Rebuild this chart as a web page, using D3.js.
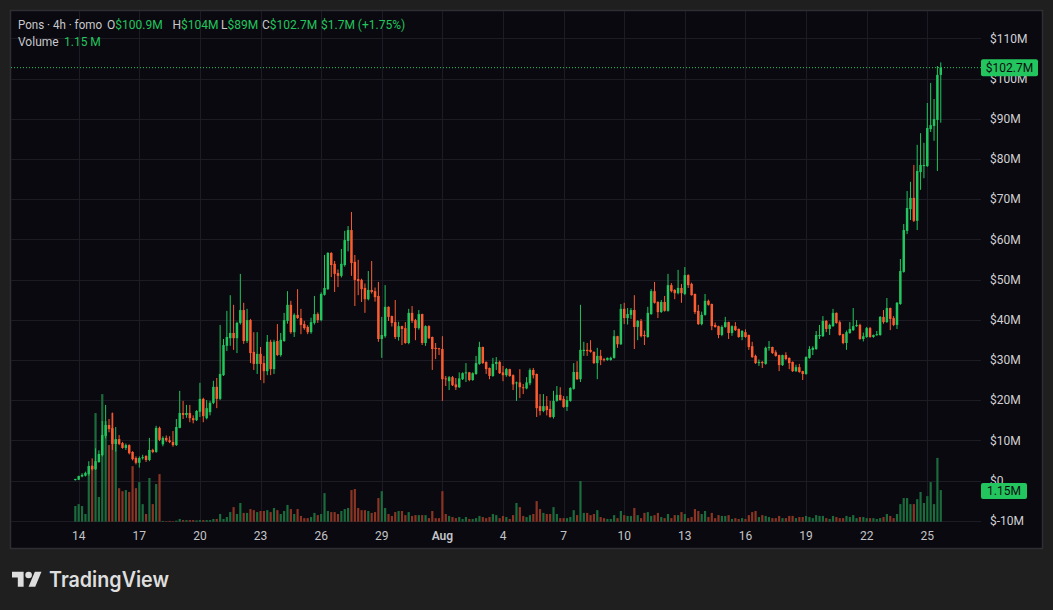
<!DOCTYPE html>
<html>
<head>
<meta charset="utf-8">
<script src="https://d3js.org/d3.v7.min.js"></script>
<style>
  html, body { margin: 0; padding: 0; background: #1f1f1f; }
  svg { display: block; }
</style>
</head>
<body>
<div id="chart"></div>
<script>
/*
PONS 4H CANDLES (millions of $), first candle = Jul 13 20:00, one every 4 hours
*/
const opens = [
  0.1, 0.2, 1.0, 1.2, 1.6, 3.6, 2.8, 4.6, 6.3, 11.1,
  13.8, 13.0, 9.1, 10.3, 9.3, 8.1, 8.8, 7.1, 5.6, 4.4,
  5.6, 6.1, 5.1, 7.6, 7.1, 13.1, 9.0, 10.6, 10.0, 9.6,
  8.8, 13.1, 16.8, 16.3, 16.8, 15.5, 15.0, 17.1, 20.3, 15.5,
  17.0, 19.3, 23.3, 20.3, 26.2, 33.5, 35.4, 36.7, 35.4, 39.2,
  42.4, 34.7, 39.9, 32.0, 29.0, 31.5, 29.2, 27.2, 34.5, 27.7,
  34.7, 31.2, 34.7, 39.7, 43.7, 36.9, 41.2, 40.4, 38.9, 38.2,
  36.9, 39.2, 41.4, 39.9, 46.2, 47.6, 56.6, 53.9, 51.6, 50.9,
  53.6, 59.6, 62.3, 54.4, 50.1, 49.9, 47.9, 45.1, 47.4, 47.1,
  45.9, 35.2, 35.9, 43.2, 40.9, 39.4, 35.7, 38.4, 37.9, 34.2,
  41.7, 39.9, 37.9, 41.4, 34.2, 38.4, 35.7, 33.0, 32.9, 32.7,
  25.4, 24.7, 25.7, 23.9, 23.2, 25.2, 26.7, 26.9, 25.0, 26.5,
  29.0, 33.2, 29.5, 28.0, 26.0, 29.0, 29.5, 26.9, 26.2, 27.7,
  26.2, 24.2, 24.4, 23.2, 22.9, 24.2, 27.5, 26.5, 18.5, 17.3,
  18.5, 17.8, 15.8, 19.8, 21.3, 20.3, 18.3, 19.8, 22.8, 27.0,
  25.2, 32.2, 32.5, 32.5, 32.0, 29.2, 31.0, 30.2, 30.0, 30.0,
  30.5, 35.9, 33.9, 42.7, 40.4, 41.2, 42.4, 38.2, 39.7, 36.2,
  35.7, 41.4, 47.1, 44.4, 41.9, 44.4, 42.2, 48.6, 47.4, 46.6,
  47.9, 46.4, 51.1, 48.9, 46.4, 42.2, 38.9, 41.2, 44.7, 43.9,
  38.7, 38.4, 36.2, 38.2, 39.4, 36.7, 38.4, 37.7, 35.7, 36.9,
  36.2, 33.4, 31.0, 29.2, 29.5, 29.0, 33.0, 33.2, 31.9, 31.2,
  28.7, 31.2, 30.5, 29.5, 27.2, 28.2, 27.2, 26.5, 30.5, 32.5,
  32.7, 35.9, 35.9, 39.7, 37.7, 38.4, 41.7, 39.4, 36.4, 34.2,
  36.7, 37.4, 38.4, 38.7, 35.2, 35.7, 37.9, 35.7, 36.2, 36.2,
  40.7, 39.4, 42.9, 40.4, 38.7, 43.9, 51.9, 62.1, 67.5, 70.3,
  64.6, 76.7, 78.2, 78.2, 87.4, 88.2, 89.7, 100.9
];
const highs = [
  0.4, 1.2, 1.8, 2.2, 4.8, 5.5, 8.0, 7.5, 14.8, 18.8,
  15.3, 16.9, 13.3, 11.3, 9.6, 9.2, 9.0, 7.3, 6.0, 6.0,
  6.4, 6.3, 10.6, 7.9, 13.6, 13.4, 11.0, 11.2, 11.0, 12.3,
  15.3, 22.3, 19.8, 18.8, 18.8, 16.2, 17.5, 24.3, 20.6, 20.0,
  19.8, 24.8, 25.5, 38.7, 35.2, 42.2, 46.1, 43.7, 39.5, 51.4,
  44.2, 42.7, 40.2, 36.9, 36.9, 33.2, 31.0, 36.2, 35.0, 35.0,
  38.9, 36.7, 41.7, 47.1, 44.7, 41.6, 47.6, 42.7, 39.7, 38.6,
  40.5, 45.9, 41.8, 46.8, 56.1, 56.8, 56.8, 54.6, 52.5, 57.6,
  62.1, 63.3, 66.8, 56.1, 54.9, 50.2, 49.0, 52.1, 54.6, 48.0,
  49.4, 40.7, 48.6, 43.3, 41.0, 44.9, 39.5, 38.5, 39.4, 42.7,
  43.4, 40.2, 42.4, 41.5, 38.6, 38.6, 35.8, 34.2, 33.0, 35.9,
  26.0, 26.0, 26.0, 25.5, 26.9, 26.9, 29.2, 27.0, 26.9, 31.0,
  34.5, 33.3, 29.6, 28.1, 30.5, 30.7, 29.8, 28.5, 28.0, 27.8,
  26.4, 24.6, 27.7, 24.0, 25.7, 27.9, 28.0, 26.6, 21.5, 21.5,
  21.0, 19.8, 22.3, 23.5, 23.2, 21.0, 21.0, 23.2, 29.2, 29.7,
  43.7, 34.5, 34.2, 34.9, 32.1, 33.0, 32.5, 30.5, 30.6, 30.8,
  37.4, 36.0, 43.9, 44.2, 42.9, 42.9, 46.1, 39.9, 40.2, 37.3,
  43.2, 47.6, 49.4, 44.6, 44.9, 45.9, 51.4, 49.1, 47.6, 52.4,
  48.9, 53.1, 51.3, 49.2, 46.5, 43.7, 42.0, 46.4, 45.0, 44.0,
  39.3, 38.5, 38.6, 40.7, 39.5, 38.6, 39.4, 37.8, 37.4, 37.6,
  36.3, 34.5, 31.3, 30.1, 29.7, 33.3, 34.7, 33.3, 32.4, 31.3,
  31.3, 31.9, 30.6, 29.6, 28.8, 29.0, 27.3, 30.9, 33.4, 33.4,
  37.2, 38.7, 40.9, 39.9, 39.0, 42.7, 41.8, 39.8, 36.5, 37.3,
  39.4, 42.9, 39.9, 39.0, 36.8, 38.2, 38.2, 36.3, 37.2, 40.9,
  42.4, 45.4, 43.0, 40.9, 44.4, 55.1, 63.8, 72.0, 74.3, 78.5,
  83.5, 86.4, 84.0, 93.9, 98.9, 94.9, 103.1, 104.0
];
const lows = [
  0.0, 0.1, 0.8, 1.0, 1.2, 2.5, 2.6, 4.4, 6.0, 10.5,
  12.0, 7.6, 7.2, 8.8, 7.9, 7.6, 6.5, 5.0, 4.0, 3.2,
  5.2, 4.6, 4.8, 6.8, 6.9, 9.8, 8.5, 9.6, 9.3, 8.4,
  8.6, 13.0, 15.3, 15.6, 14.5, 14.2, 14.8, 15.8, 14.5, 15.2,
  16.2, 19.0, 18.0, 20.0, 26.0, 32.2, 33.5, 32.5, 31.7, 38.8,
  34.0, 34.2, 29.2, 27.5, 26.5, 25.0, 24.2, 26.2, 26.2, 26.5,
  31.0, 30.8, 34.5, 39.0, 36.5, 35.7, 40.2, 36.4, 37.5, 36.4,
  36.5, 38.8, 39.2, 39.6, 46.0, 47.4, 50.6, 46.9, 48.1, 50.5,
  53.2, 57.0, 50.9, 43.4, 46.1, 44.4, 41.7, 44.8, 46.5, 44.5,
  34.5, 30.5, 35.5, 39.7, 38.3, 35.2, 34.8, 33.7, 34.0, 33.9,
  39.2, 34.9, 37.5, 33.7, 33.5, 35.2, 27.5, 30.2, 31.2, 19.8,
  23.5, 22.5, 23.5, 22.5, 23.0, 25.0, 24.5, 24.7, 24.8, 26.3,
  28.8, 29.0, 26.5, 25.2, 25.8, 27.5, 26.5, 24.7, 25.8, 25.8,
  22.5, 19.8, 20.5, 21.5, 22.7, 23.7, 25.4, 15.8, 16.2, 17.0,
  16.2, 15.6, 15.4, 19.6, 19.9, 18.1, 17.3, 19.6, 22.6, 25.0,
  24.5, 31.0, 31.0, 31.8, 29.0, 25.2, 28.7, 29.6, 29.8, 29.8,
  30.3, 33.0, 33.7, 38.9, 38.8, 40.2, 32.7, 34.9, 35.6, 33.7,
  35.5, 41.2, 44.0, 40.4, 41.7, 42.0, 42.0, 46.8, 45.1, 46.3,
  44.2, 46.1, 47.9, 46.0, 41.4, 38.7, 38.6, 41.0, 43.5, 37.4,
  38.0, 35.4, 35.9, 38.0, 35.2, 36.0, 37.2, 35.5, 34.9, 35.5,
  32.5, 30.5, 29.0, 28.5, 28.0, 28.8, 32.3, 31.5, 30.8, 27.2,
  28.5, 30.0, 27.7, 27.0, 27.0, 26.8, 25.0, 26.3, 30.3, 31.2,
  32.5, 35.2, 35.7, 36.9, 36.2, 38.2, 39.0, 36.0, 33.9, 32.5,
  36.5, 37.2, 38.2, 35.0, 34.6, 35.5, 35.5, 35.5, 36.0, 36.0,
  39.0, 39.2, 37.4, 38.4, 37.7, 43.7, 51.7, 61.3, 64.8, 64.3,
  62.3, 72.3, 75.2, 78.0, 86.7, 84.5, 77.0, 89.0
];
const closes = [
  0.4, 1.1, 1.4, 1.9, 3.6, 2.8, 4.8, 6.6, 11.3, 13.8,
  12.8, 9.1, 10.3, 9.1, 8.1, 8.8, 6.8, 5.3, 4.4, 5.6,
  5.8, 5.1, 7.6, 7.1, 13.1, 10.1, 10.6, 10.0, 9.6, 8.8,
  13.3, 16.8, 16.3, 16.8, 15.5, 15.0, 17.3, 20.3, 16.0, 18.0,
  19.3, 23.3, 20.3, 26.5, 33.7, 35.7, 36.7, 35.4, 39.2, 42.4,
  34.7, 39.9, 31.7, 29.0, 31.5, 29.0, 27.2, 34.5, 27.7, 34.5,
  31.2, 35.0, 39.9, 43.7, 36.9, 41.2, 40.4, 38.7, 37.9, 36.9,
  39.4, 41.4, 39.9, 46.4, 47.9, 56.6, 53.6, 51.4, 50.9, 53.9,
  59.8, 62.3, 54.1, 49.9, 49.6, 47.6, 45.1, 47.4, 46.9, 45.6,
  35.2, 36.2, 43.2, 40.7, 39.2, 35.7, 38.4, 37.7, 34.2, 41.7,
  39.7, 37.9, 41.4, 34.2, 38.4, 35.4, 32.7, 32.7, 32.7, 25.2,
  25.2, 25.7, 23.7, 23.2, 25.4, 26.7, 26.9, 25.0, 26.7, 29.2,
  33.2, 29.2, 27.7, 26.0, 29.0, 29.5, 26.7, 26.2, 27.7, 26.0,
  23.9, 24.4, 23.2, 23.0, 24.4, 27.5, 26.2, 18.0, 17.3, 18.5,
  17.5, 15.8, 19.8, 21.3, 20.0, 18.3, 20.0, 23.0, 27.0, 25.2,
  32.5, 32.5, 32.2, 32.0, 29.2, 31.0, 30.0, 30.0, 30.5, 30.5,
  35.9, 33.9, 42.7, 40.4, 41.4, 42.4, 38.2, 39.7, 35.9, 35.9,
  41.7, 47.1, 44.2, 41.9, 44.4, 42.2, 48.6, 47.1, 46.6, 47.9,
  46.6, 51.1, 48.6, 46.1, 41.9, 38.9, 41.2, 44.7, 43.7, 38.4,
  38.2, 36.2, 38.2, 39.4, 36.7, 38.4, 37.4, 35.7, 37.2, 35.7,
  33.2, 30.7, 29.2, 29.5, 29.2, 33.0, 33.2, 31.7, 31.0, 28.7,
  31.2, 30.2, 29.2, 27.2, 28.2, 27.0, 26.5, 30.7, 32.7, 33.0,
  36.2, 36.2, 39.7, 37.7, 38.7, 41.7, 39.2, 36.2, 34.2, 36.9,
  37.7, 38.4, 38.7, 35.2, 35.9, 37.9, 35.7, 36.2, 36.4, 40.7,
  39.4, 42.9, 40.2, 38.7, 44.2, 52.1, 62.3, 67.8, 70.3, 64.6,
  77.0, 78.5, 78.5, 87.7, 88.4, 89.9, 100.9, 102.7
];
const volumes = [
  0.57, 0.64, 0.57, 0.28, 2.02, 2.05, 3.95, 0.90, 4.64, 3.66,
  2.79, 3.95, 2.97, 1.22, 1.11, 1.15, 1.08, 2.02, 1.22, 1.44,
  0.64, 0.28, 1.59, 0.64, 1.37, 1.73, 0.03, 0.02, 0.03, 0.02,
  0.04, 0.10, 0.06, 0.06, 0.06, 0.06, 0.05, 0.06, 0.06, 0.06,
  0.06, 0.10, 0.10, 0.28, 0.10, 0.17, 0.35, 0.53, 0.28, 0.68,
  0.32, 0.32, 0.46, 0.42, 0.35, 0.39, 0.39, 0.42, 0.35, 0.50,
  0.42, 0.28, 0.39, 0.61, 0.46, 0.28, 0.46, 0.21, 0.13, 0.13,
  0.17, 0.32, 0.24, 0.28, 1.04, 0.39, 0.35, 0.35, 0.28, 0.39,
  0.46, 0.50, 1.15, 1.19, 0.50, 0.42, 0.42, 0.39, 0.32, 0.35,
  0.86, 1.11, 0.50, 0.28, 0.21, 0.35, 0.39, 0.39, 0.24, 0.35,
  0.21, 0.24, 0.24, 0.24, 0.24, 0.13, 0.39, 0.13, 0.13, 1.11,
  0.28, 0.21, 0.17, 0.13, 0.17, 0.10, 0.17, 0.10, 0.10, 0.13,
  0.21, 0.17, 0.13, 0.17, 0.28, 0.24, 0.13, 0.21, 0.17, 0.10,
  0.24, 0.68, 0.53, 0.21, 0.17, 0.24, 0.28, 0.75, 0.46, 0.32,
  0.28, 0.28, 0.53, 0.28, 0.13, 0.13, 0.13, 0.17, 0.42, 0.24,
  1.48, 0.32, 0.32, 0.24, 0.28, 0.42, 0.17, 0.13, 0.10, 0.10,
  0.24, 0.13, 0.39, 0.24, 0.21, 0.21, 0.50, 0.24, 0.13, 0.32,
  0.35, 0.21, 0.24, 0.32, 0.17, 0.13, 0.28, 0.13, 0.24, 0.24,
  0.35, 0.28, 0.13, 0.17, 0.46, 0.39, 0.28, 0.39, 0.17, 0.32,
  0.13, 0.24, 0.21, 0.21, 0.24, 0.10, 0.13, 0.10, 0.13, 0.10,
  0.24, 0.35, 0.39, 0.17, 0.24, 0.21, 0.17, 0.13, 0.13, 0.21,
  0.13, 0.13, 0.21, 0.21, 0.13, 0.17, 0.17, 0.21, 0.17, 0.13,
  0.24, 0.21, 0.21, 0.13, 0.10, 0.21, 0.17, 0.13, 0.13, 0.21,
  0.17, 0.24, 0.13, 0.17, 0.17, 0.13, 0.13, 0.13, 0.10, 0.13,
  0.17, 0.28, 0.21, 0.13, 0.28, 0.64, 0.86, 0.86, 0.64, 0.64,
  0.82, 1.08, 0.68, 0.93, 1.44, 0.64, 2.32, 1.15
];

// axis ticks
const priceTicks = [-10, 0, 10, 20, 30, 40, 50, 60, 70, 80, 90, 100, 110];
const dateTicks = ["2024-07-14", "2024-07-17", "2024-07-20", "2024-07-23", "2024-07-26", "2024-07-29",
  "2024-08-01", "2024-08-04", "2024-08-07", "2024-08-10", "2024-08-13", "2024-08-16",
  "2024-08-19", "2024-08-22", "2024-08-25"];
const dateLabels = ["14", "17", "20", "23", "26", "29", "Aug", "4", "7", "10", "13", "16", "19", "22", "25"];

// legend values as shown by the source
const lastOpen = 100.9, lastHigh = 104, lastLow = 89, lastClose = 102.7;
const lastChange = 1.7, lastChangePct = 1.75;
const lastVolume = 1.15;

/*
SVG CANVAS
*/
const width = 1053;
const height = 610;
const green = "#22c55e";
const red = "#fd5c30";
const volGreen = "#1b6b3c";
const volRed = "#8a3424";
const font = "Roboto, 'Noto Sans', sans-serif";

const svg = d3.select("#chart")
    .append("svg")
    .attr("width", width)
    .attr("height", height);

svg.append("rect")
    .attr("width", width)
    .attr("height", height)
    .attr("fill", "#1f1f1f");

// chart panel
svg.append("rect")
    .attr("x", 10.5)
    .attr("y", 10.5)
    .attr("width", 1032)
    .attr("height", 538)
    .attr("fill", "#09090f")
    .attr("stroke", "#2f2f33")
    .attr("stroke-width", 1.5);

const plot = { left: 11, right: 981, top: 11, bottom: 522 };

/*
SCALES
*/
const parseDay = d3.utcParse("%Y-%m-%d");
const firstCandle = Date.UTC(2024, 6, 13, 20);
const step = 4 * 3600 * 1000;

const xScale = d3.scaleUtc()
    .domain([parseDay("2024-07-14"), parseDay("2024-08-25")])
    .range([78.7, 927.3]);

const yScale = d3.scaleLinear()
    .domain([-10, 110])
    .range([520.7, 38.3]);

const volScale = d3.scaleLinear()
    .domain([0, 1])
    .range([521.7, 494.2]);

let candles = opens.map((o, i) => ({
    time: new Date(firstCandle + i * step),
    open: o,
    high: highs[i],
    low: lows[i],
    close: closes[i],
    volume: volumes[i]
}));

/* GRID */
const grid = svg.append("g");
grid.selectAll("line.h")
    .data(priceTicks)
    .enter()
    .append("line")
        .attr("x1", plot.left)
        .attr("x2", plot.right)
        .attr("y1", d => Math.round(yScale(d)) + 0.5)
        .attr("y2", d => Math.round(yScale(d)) + 0.5)
        .attr("stroke", "#1d1c25");

grid.selectAll("line.v")
    .data(dateTicks)
    .enter()
    .append("line")
        .attr("x1", d => Math.round(xScale(parseDay(d))) + 0.5)
        .attr("x2", d => Math.round(xScale(parseDay(d))) + 0.5)
        .attr("y1", plot.top)
        .attr("y2", plot.bottom)
        .attr("stroke", "#1d1c25");

/* VOLUME BARS */
svg.append("clipPath").attr("id", "plotclip")
    .append("rect")
    .attr("x", plot.left)
    .attr("y", plot.top)
    .attr("width", plot.right - plot.left)
    .attr("height", plot.bottom - plot.top);

svg.append("g")
    .attr("clip-path", "url(#plotclip)")
    .selectAll("rect")
    .data(candles)
    .enter()
    .append("rect")
        .attr("x", d => xScale(d.time) - 1.1)
        .attr("width", 2.2)
        .attr("y", d => volScale(d.volume))
        .attr("height", d => volScale(0) - volScale(d.volume))
        .attr("fill", d => d.close >= d.open ? volGreen : volRed);

/* CANDLES */
const candle = svg.append("g")
    .attr("clip-path", "url(#plotclip)")
    .selectAll("g")
    .data(candles)
    .enter()
    .append("g");

candle.append("line")
    .attr("x1", d => xScale(d.time))
    .attr("x2", d => xScale(d.time))
    .attr("y1", d => yScale(d.high))
    .attr("y2", d => yScale(d.low))
    .attr("stroke", d => d.close >= d.open ? green : red)
    .attr("stroke-width", 1);

candle.append("rect")
    .attr("x", d => xScale(d.time) - 1.25)
    .attr("width", 2.5)
    .attr("y", d => yScale(Math.max(d.open, d.close)))
    .attr("height", d => Math.max(1, Math.abs(yScale(d.open) - yScale(d.close))))
    .attr("fill", d => d.close >= d.open ? green : red);

/* LAST PRICE LINE */
svg.append("line")
    .attr("x1", plot.left)
    .attr("x2", plot.right)
    .attr("y1", yScale(lastClose))
    .attr("y2", yScale(lastClose))
    .attr("stroke", green)
    .attr("stroke-width", 1)
    .attr("stroke-dasharray", "1,2");

/* PRICE AXIS */
svg.append("g")
    .selectAll("text")
    .data(priceTicks)
    .enter()
    .append("text")
        .attr("x", 990)
        .attr("y", d => yScale(d))
        .attr("dy", "0.35em")
        .attr("fill", "#d0d0d4")
        .attr("font-family", font)
        .attr("font-size", 12)
        .text(d => d === 0 ? "$0" : "$" + d + "M");

// last price tag
svg.append("rect")
    .attr("x", 981)
    .attr("y", yScale(lastClose) - 8.5)
    .attr("width", 57)
    .attr("height", 17)
    .attr("rx", 2)
    .attr("fill", green);
svg.append("text")
    .attr("x", 1009.5)
    .attr("y", yScale(lastClose))
    .attr("dy", "0.35em")
    .attr("text-anchor", "middle")
    .attr("fill", "#0d0d10")
    .attr("font-family", font)
    .attr("font-size", 12)
    .text("$" + lastClose + "M");

// last volume tag
svg.append("rect")
    .attr("x", 981)
    .attr("y", volScale(lastVolume) - 7)
    .attr("width", 46)
    .attr("height", 16)
    .attr("rx", 2)
    .attr("fill", green);
svg.append("text")
    .attr("x", 1004)
    .attr("y", volScale(lastVolume) + 1)
    .attr("dy", "0.35em")
    .attr("text-anchor", "middle")
    .attr("fill", "#0d0d10")
    .attr("font-family", font)
    .attr("font-size", 12)
    .text(lastVolume + "M");

/* TIME AXIS */
svg.append("g")
    .selectAll("text")
    .data(dateTicks)
    .enter()
    .append("text")
        .attr("x", d => xScale(parseDay(d)))
        .attr("y", 536)
        .attr("dy", "0.35em")
        .attr("text-anchor", "middle")
        .attr("fill", "#c4c4c8")
        .attr("font-family", font)
        .attr("font-size", 12)
        .attr("font-weight", (d, i) => dateLabels[i] === "Aug" ? 600 : 400)
        .text((d, i) => dateLabels[i]);

/* LEGEND (top left) */
const legend = svg.append("text")
    .attr("y", 29)
    .attr("font-family", font)
    .attr("font-size", 12)
    .attr("fill", "#c8c8cc");
legend.append("tspan").attr("x", 18).attr("textLength", 84).attr("lengthAdjust", "spacingAndGlyphs")
    .text("Pons · 4h · fomo");
legend.append("tspan").attr("x", 107).text("O");
legend.append("tspan").attr("fill", green).text("$" + lastOpen + "M");
legend.append("tspan").attr("x", 172.5).text("H");
legend.append("tspan").attr("fill", green).text("$" + lastHigh + "M");
legend.append("tspan").attr("x", 221).text("L");
legend.append("tspan").attr("fill", green).text("$" + lastLow + "M");
legend.append("tspan").attr("x", 262).text("C");
legend.append("tspan").attr("fill", green).text("$" + lastClose + "M");
legend.append("tspan").attr("x", 321).attr("fill", green)
    .text("$" + lastChange + "M (+" + lastChangePct + "%)");

const volLegend = svg.append("text")
    .attr("y", 46)
    .attr("font-family", font)
    .attr("font-size", 12)
    .attr("fill", "#c8c8cc");
volLegend.append("tspan").attr("x", 18).text("Volume");
volLegend.append("tspan").attr("x", 64).attr("fill", green).text(lastVolume + " M");

/* TRADINGVIEW MARK */
const logo = svg.append("g")
    .attr("transform", "translate(12,568.4) scale(0.83)")
    .attr("fill", "#dedede");
logo.append("path").attr("d", "M14 22H7V11H0V4h14v18z");
logo.append("path").attr("d", "M28 22h-8l7.5-18h8L28 22z");
logo.append("circle").attr("cx", 20).attr("cy", 8).attr("r", 4);

svg.append("text")
    .attr("x", 49)
    .attr("y", 587)
    .attr("font-family", "Inter, 'Open Sans', sans-serif")
    .attr("font-weight", 600)
    .attr("font-size", 21)
    .attr("textLength", 120)
    .attr("lengthAdjust", "spacingAndGlyphs")
    .attr("fill", "#dedede")
    .text("TradingView");
</script>
</body>
</html>
